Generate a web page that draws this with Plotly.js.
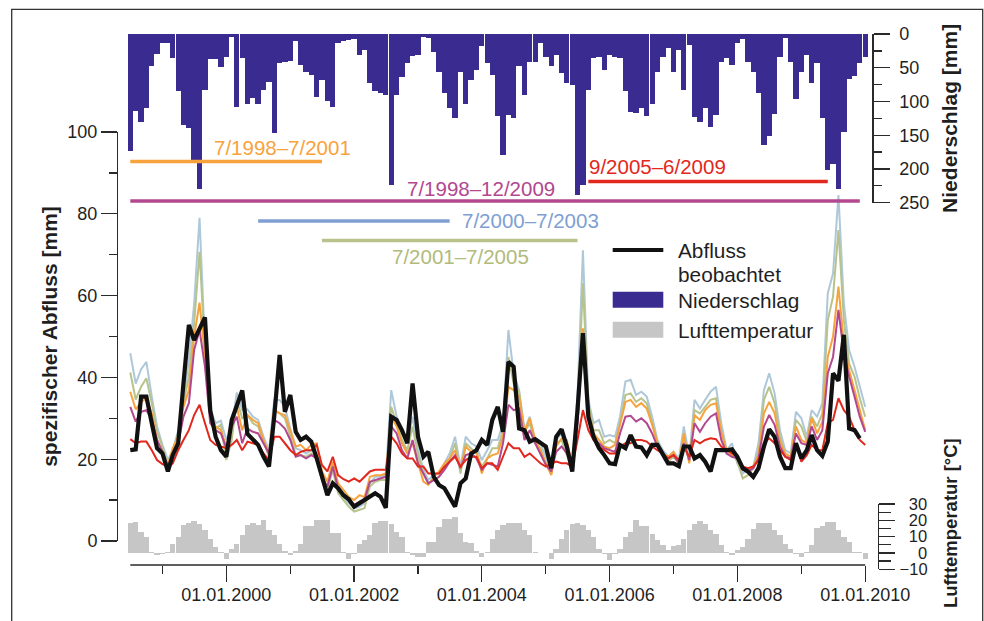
<!DOCTYPE html>
<html><head><meta charset="utf-8">
<script src="https://cdn.plot.ly/plotly-3.0.1.min.js"></script>
<style>html,body{margin:0;padding:0;background:#fff;}#chart{width:984px;height:621px;}</style>
</head><body><div id="chart"></div>
<script>
// ---------------- data ----------------
const firstMonth = [1998, 7];   // monthly values from 7/1998
const nMonths = 139;
const niederschlag = [173,114,130,109,47,30,14,14,36,85,135,140,
188,230,83,37,37,49,34,5,108,36,104,95,
104,83,71,146,43,41,40,11,46,56,61,93,
68,100,108,14,11,9,8,31,23,73,85,88,
90,224,90,63,43,33,31,5,6,26,56,88,
109,125,56,104,68,54,18,43,61,121,179,120,
125,47,90,41,41,13,34,48,31,58,72,76,
239,224,83,36,34,53,31,34,36,85,115,117,
110,122,104,56,34,20,57,24,83,17,123,131,
110,138,120,42,36,46,14,8,42,56,87,164,
151,118,34,6,42,97,56,31,72,43,125,202,
192,230,145,67,62,43,34];
const lufttemperatur = [18.6,19,12.9,9.8,0.6,-1.4,-0.4,0.6,5.7,9.8,17,18.6,
19.4,18,13.9,8.8,3.7,0.6,-3.5,2.7,5.7,10.8,17,18.4,
17,20,14.3,10.8,5.7,1.2,-1.4,1.2,5.7,16.3,16.3,20,
20.4,20.4,12.2,12.2,0.6,-3.5,-0.4,5.7,7.8,10.8,18.4,19.6,
19.6,18,12.9,9.8,0.6,-1.4,-2.4,-2.4,6.7,6.7,15.9,21,
21,22,12,6.5,6,1.5,-2.4,0.6,8.8,13.9,17,18.4,
18.4,18.4,14.3,10.8,0.6,0,0,-3.5,2.7,8.8,14.3,18,
18.4,17,13.9,9.8,2.7,-0.4,-4.5,-0.4,2.7,9.8,12.9,20.4,
16.3,16.3,11.8,7.8,4.7,2,4.1,4.7,8.8,14.3,18,19.4,
18,14.3,11.8,4.7,0.6,-1.4,2,3.7,8.8,14.9,18.4,18.6,
18.6,14.3,10.8,5.7,2.7,-0.4,-2.4,0.6,4.7,15.5,16.3,19,
19,14.3,9.8,6.7,0.6,0.6,-3.5];
const abflussBeobachtet = [22.2,22.4,35.3,35.3,28.8,22.7,21.4,17,21,23.9,38.5,52.8,
49.1,52,54.7,32,25.5,22.2,20.6,29.6,32.8,36.8,26.2,24.7,
23.5,20.6,18.2,30.4,45.5,31.6,35.7,26.7,24.7,25.5,24.3,20.2,
15.7,11.2,14.1,12.9,11.2,10.2,8.4,9.2,10,10.8,11.7,10.8,
8.1,30.4,29.6,27.1,23.9,38.5,25.5,20.6,21.8,15.7,13.7,12.9,
10.8,8.4,14.1,15.3,21.4,22.2,24.7,23.5,29.6,32.8,26.7,43.8,
42.6,27.5,27.1,24.3,24.9,23.9,23.1,17.8,25.5,27.3,23.1,17,
32,50.8,30.4,25.5,22.7,21,19,18.8,23.5,22.7,25.9,23.1,
22.9,21,23.5,23.5,21.4,19,19,18.3,23.1,23.1,20.2,21,
19.4,17,22.2,22.1,22.2,22.4,20.6,17.8,17,15.7,17.8,23.1,
27.3,25.5,20.6,17.8,17.8,23.9,20.2,22.2,25.9,22.2,20.8,24.3,
41,39.2,50.4,27.5,27.1,25.1];
// simulated runoff, calibrated on 7/2000–7/2003
const sim2000_2003 = [45.9,38.5,42,43.8,35.3,28,23.5,19.8,22.2,27.1,34.5,44.3,
58,79,47.5,32,28.8,29.4,24.7,28,36.3,32,32.2,30.4,
29.6,25.5,22.2,34.5,34.5,32.8,27.5,22.7,22.2,21.4,22.2,21.4,
15.7,13.3,19,12.5,10.8,9.2,8,8.4,9.2,14.1,15.7,15.7,
16.1,36.9,30.4,26.3,23.9,30.4,22.2,17.4,14.9,16.1,16.5,19,
21.4,25.5,18.2,25.5,23.9,23.1,19.8,22.2,24.7,24.7,28.8,51.6,
41,36.9,27.1,30.4,24.7,23.9,20.6,16.5,24.7,26.3,22.2,18.2,
35.3,71.1,34.5,28.8,29.6,25.5,25.9,25.5,30.4,39,39.4,35.7,
36.5,35.3,30.4,24.7,22.2,20.6,21.8,20.2,28,20.6,34.5,32.4,
34.5,36.5,37.7,28.8,22.2,23.9,19,16.5,17.4,18.2,23.9,36.9,
41,36.1,27.1,22.2,21.4,31.6,30,25.5,32,30.4,33.7,60.6,
65.4,84.6,58.1,46.7,42.6,37.7,32.8];
// simulated runoff, calibrated on 7/2001–7/2005
const sim2001_2005 = [41.2,34.6,37.7,39.8,33.7,26.7,23,18.5,22.2,26.3,33.7,40.2,
53.2,70.7,46.7,31.2,27.5,28.4,19.8,24.7,34.5,30,30.8,28.8,
28,24.3,20.6,32,31.2,30,25.5,21,21,20.6,21.4,20.2,
14.9,12.5,17.4,11.7,10,8.4,7.2,7.6,8,13.3,14.5,14.9,
14.9,32.8,28.8,24.7,22.2,28,21,16.5,14.1,14.9,15.7,17.8,
20.2,23.9,16.5,23.9,22.7,21.4,18.2,20.2,22.7,22.7,27.1,45,
38.5,36.5,26.7,28.8,23.9,22.7,19,16.5,23.9,24.7,21,17.8,
31.2,63,33.7,27.1,27.1,23.9,24.7,23.9,28.8,35.7,36.1,34,
34.9,33.7,28.8,24.3,21,19.4,20.6,19,24.7,19.4,32,31.2,
32.8,34.5,34.9,27.1,21.4,21.8,19.4,15.3,16.1,17.8,21.8,34.5,
37.7,33.7,25.5,21,20.6,29.6,28,24.3,30.4,28,31.2,54,
59.7,76,54,43.4,40.2,34.9,30.4];
// simulated runoff, calibrated on 7/1998–7/2001
const sim1998_2001 = [36.5,32.2,34,34.9,31.2,24.7,21.8,18.5,22.7,25.5,32.8,36.9,
50,58.3,45,30.8,28,27.1,23.1,28.4,32.8,27.1,30.8,29.6,
28.8,24.7,21.4,32,31.2,30.8,27.1,23.1,23.5,22.2,23.5,23.9,
17,14.5,19.4,14.1,12.5,10.8,10,11.2,10.7,15.7,16.1,16.1,
16.5,30.4,28,23.9,21.4,23.9,19,14.5,13.7,15.7,17,19,
20.2,22.2,17.8,23.1,21.8,22.2,16.5,20.2,21,21.4,25.5,37.7,
36.9,35.3,26.7,30,24.7,22.2,19,16.1,23.1,25.1,24.7,18.2,
30.4,52,32,26.3,24.7,23.1,22.7,23.5,28.4,34,34.5,32.8,
33.7,32.4,28.4,23.9,21.4,20.6,21.8,19,26.3,19,30.8,29.6,
32,33.3,33.7,26.7,22.2,21,21,17.8,17.4,18.2,21,31.2,
34,31.2,24.3,21.4,20.6,28,24.7,23.9,30,26.3,29.2,45,
50,62.2,48.3,41.8,36.9,32,27.1];
// simulated runoff, calibrated on 7/1998–12/2009
const sim1998_2009 = [32.8,29.2,31.6,32,29.6,24.7,21.8,18.2,21,23.9,30.4,33.7,
46.7,51.6,42.6,28.8,27.1,26.3,22.7,28,30.4,23.9,27.5,26.7,
26.3,23.9,21.4,29.6,28.8,27.5,24.7,20.6,21,20.2,21,20.2,
15.3,13.3,18.2,12.9,11.2,10,8.8,9.6,10,14.5,14.9,15.3,
15.7,28,26.3,22.2,20.2,24.7,19,16.5,14.1,14.9,15.7,17.4,
19.4,21,17.8,21,21.4,20.2,17.4,19,18.6,18.2,23.9,33.3,
32,32.4,24.7,27.1,23.9,21.4,18.6,17,21.8,23.1,21.4,18.2,
28.8,49.6,30.4,24.7,23.9,22.7,22.2,21.8,26.3,30.4,30.6,29.2,
30,28.8,26.3,23.1,21,20.2,21,19,23.9,19.8,28.8,26.7,
28.8,30.4,31.2,24.7,21.4,20.6,20.2,17.4,17,17.8,20.2,28,
30.8,28.4,23.1,20.6,20.2,26.3,23.9,23.5,28,24.7,27.1,41,
45,56.5,45.9,40.2,35.3,30.4,26.7];
// simulated runoff, calibrated on 9/2005–6/2009
const sim2005_2009 = [24.9,23.9,24.3,24.3,22.2,19.8,18.8,18.2,19,22.2,24.7,27.1,
30.8,33.3,28.8,24.7,23.5,23.1,22.7,23.5,24.7,22.2,24.3,23.9,
23.5,21.4,19.8,25.5,25.5,23.9,22.2,21,21.8,22.2,22.2,23.5,
18.6,17,20.6,16.1,15.1,14.5,15.3,14.5,15.7,17,17.4,17.4,
17.4,25.5,23.9,21.4,20.2,20.2,18.2,18.2,16.5,16.5,16.5,18.2,
19.4,20.6,18.2,19.8,20.6,20.6,17.8,19,19,17.4,20.6,23.9,
22.7,22.7,20.6,21.4,20.2,19,18.2,19,19.4,19,19,18.2,
24.7,32,27.1,24.7,23.1,22.2,21.4,21.4,23.1,23.9,23.9,24.7,
24.7,24.3,23.1,22.2,21.4,20.2,21,19.8,23.1,20.6,24.7,23.9,
24.7,25.1,24.9,23.1,22.2,21.4,20.6,18.2,17.8,18.2,19.8,23.9,
25.1,23.9,22.2,20.6,19.8,23.9,19.4,21,23.5,22.2,22.2,28.8,
29.6,34.9,32,30.4,27.1,24.7,23.5];
// calibration periods
const periodLabels = ['7/1998\u20137/2001','7/1998\u201312/2009','7/2000\u20137/2003','7/2001\u20137/2005','9/2005\u20136/2009'];
const periodStart = ['1998-07-01','1998-07-01','2000-07-01','2001-07-01','2005-09-01'];
const periodEnd   = ['2001-07-01','2009-12-01','2003-07-01','2005-07-01','2009-06-01'];
// ticks
const xTickVals = ['2000-01-01','2002-01-01','2004-01-01','2006-01-01','2008-01-01','2010-01-01'];
const xTickText = ['01.01.2000','01.01.2002','01.01.2004','01.01.2006','01.01.2008','01.01.2010'];
const xMinorVals = ['1999-01-01','2001-01-01','2003-01-01','2005-01-01','2007-01-01','2009-01-01'];
const qTickVals = [0,20,40,60,80,100];
const pTickVals = [0,50,100,150,200,250];
const tTickVals = [-10,0,10,20,30];
const tTickText = ['\u221210','\u2007\u20070','\u200710','\u200720','\u200730'];
const legendLabels = ['Abfluss','beobachtet','Niederschlag','Lufttemperatur'];

// month dates
const months = [];
for (let k = 0; k < nMonths; k++) {
  const m0 = firstMonth[1] - 1 + k;
  const yy = firstMonth[0] + Math.floor(m0 / 12);
  const mm = (m0 % 12) + 1;
  months.push(yy + '-' + String(mm).padStart(2, '0') + '-01');
}

// ---------------- styles / geometry ----------------
const FONT = 'Liberation Sans, Arial, Helvetica, sans-serif';
const AX = '#2a2a2a';
const TXT = '#1f1f1f';
const colPrecip = '#3a2b91', colTemp = '#c5c6c5';
const colLB = '#aec8d9', colG = '#b7c38b', colO = '#f7a33d', colP = '#b2488f', colR = '#e2281d';
const periodColors = ['#f7a33d','#b2488f','#7f9fd3','#b7c38b','#e2281d'];
const periodTextColors = ['#f7a33d','#b2488f','#7f9fd3','#b1bb7c','#e2281d'];
const periodLinePx = [161.5, 201, 221, 240.5, 181.5];
const periodTextPx = [[212,147.5],[405,188],[460,220],[390,256],[587,166.5]];

const W = 984, H = 621, L = 117, R = 878, T = 30, B = 572;
const fx = p => (p - L) / (R - L);
const fy = p => (B - p) / (B - T);
const t2000 = Date.UTC(2000,0,1), t2010 = Date.UTC(2010,0,1);
const px2000 = 226.3, px2010 = 865.2;
const msPerPx = (t2010 - t2000) / (px2010 - px2000);
const xDomPx = [126, 870];
const xRange = xDomPx.map(p => t2000 + (p - px2000) * msPerPx);
const monthMs = 30.4375 * 86400000;

const traces = [];
traces.push({type:'bar', x: months, y: niederschlag, yaxis:'y2', width: monthMs,
  marker:{color: colPrecip, line:{width:0}}, hoverinfo:'skip', name:'Niederschlag'});
traces.push({type:'bar', x: months, y: lufttemperatur, yaxis:'y3', width: monthMs,
  marker:{color: colTemp, line:{width:0}}, hoverinfo:'skip', name:'Lufttemperatur'});
const sims = [[sim2000_2003, colLB],[sim2001_2005, colG],[sim1998_2001, colO],[sim1998_2009, colP],[sim2005_2009, colR]];
sims.forEach(([arr, c]) => traces.push({type:'scatter', mode:'lines', x: months.slice(0, arr.length), y: arr,
  yaxis:'y', line:{color:c, width:2}, hoverinfo:'skip'}));
traces.push({type:'scatter', mode:'lines', x: months.slice(0, abflussBeobachtet.length), y: abflussBeobachtet,
  yaxis:'y', line:{color:'#111111', width:4.2}, hoverinfo:'skip', name:'Abfluss beobachtet'});

const shapes = [];
// outer frame
shapes.push({type:'rect', xref:'paper', yref:'paper', x0: fx(11.7), x1: fx(982.7), y0: fy(640), y1: fy(9.3),
  line:{color:'#333', width:1.3}, fillcolor:'rgba(0,0,0,0)', layer:'below'});
// x axis line
shapes.push({type:'line', xref:'x', yref:'paper', x0: '1998-07-01', x1: '2010-01-01', y0: fy(565), y1: fy(565),
  line:{color: AX, width:1.3}});
// calibration period bars
periodLabels.forEach((lab, i) => {
  shapes.push({type:'line', xref:'x', yref:'paper', x0: periodStart[i], x1: periodEnd[i],
    y0: fy(periodLinePx[i]), y1: fy(periodLinePx[i]), line:{color: periodColors[i], width:3.4}});
});
// legend symbols
shapes.push({type:'line', xref:'paper', yref:'paper', x0: fx(612.7), x1: fx(663.3), y0: fy(250), y1: fy(250), line:{color:'#111', width:4.2}});
shapes.push({type:'rect', xref:'paper', yref:'paper', x0: fx(612.7), x1: fx(663.3), y0: fy(307.7), y1: fy(291.7), line:{width:0}, fillcolor: colPrecip});
shapes.push({type:'rect', xref:'paper', yref:'paper', x0: fx(612.7), x1: fx(663.3), y0: fy(337.7), y1: fy(321.7), line:{width:0}, fillcolor: colTemp});

const annotations = [];
periodLabels.forEach((lab, i) => {
  annotations.push({xref:'paper', yref:'paper', x: fx(periodTextPx[i][0]), y: fy(periodTextPx[i][1]),
    xanchor:'left', yanchor:'middle', showarrow:false, text: lab,
    font:{family: FONT, size: 20.5, color: periodTextColors[i]}});
});
const legendTextPx = [250, 274, 300, 330];
legendLabels.forEach((lab, i) => {
  annotations.push({xref:'paper', yref:'paper', x: fx(676), y: fy(legendTextPx[i]), xanchor:'left', yanchor:'middle',
    showarrow:false, text: lab, font:{family: FONT, size: 20.8, color: TXT}});
});
const titleFont = {family: FONT, size: 21, color: TXT, weight: 'bold'};
// temperature axis title (placed explicitly, it is longer than its axis)
annotations.push({xref:'paper', yref:'paper', x: fx(950), y: fy(523), xanchor:'center', yanchor:'middle',
  textangle: -90, showarrow:false, text:'Lufttemperatur [°C]', font:{family: FONT, size: 18.5, color: TXT, weight:'bold'}});

const tickFont = {family: FONT, size: 18, color: TXT};
const layout = {
  width: W, height: H,
  margin: {l: L, r: W - R, t: T, b: H - B, autoexpand: false},
  paper_bgcolor: '#ffffff', plot_bgcolor: 'rgba(0,0,0,0)',
  showlegend: false, barmode: 'overlay', bargap: 0, hovermode: false,
  xaxis: {type:'date', domain:[fx(xDomPx[0]), fx(xDomPx[1])], range: xRange, anchor:'free', position: fy(565),
    showline:false, showgrid:false, zeroline:false, ticks:'outside', ticklen:16, tickwidth:1.3, tickcolor: AX,
    tickmode:'array', tickvals: xTickVals, ticktext: xTickText, tickfont: tickFont, ticklabelstandoff: -3,
    minor:{tickmode:'array', tickvals: xMinorVals, ticks:'outside', ticklen:8, tickwidth:1.3, tickcolor: AX, showgrid:false}},
  yaxis: {domain:[fy(541), fy(132)], range:[0,100], anchor:'free', position:0, side:'left',
    showline:true, linecolor: AX, linewidth:1.3, ticks:'outside', ticklen:16, tickwidth:1.3, tickcolor: AX,
    tickmode:'array', tickvals: qTickVals, showgrid:false, zeroline:false, tickfont: tickFont,
    minor:{dtick:10, tick0:0, ticks:'outside', ticklen:8, tickwidth:1.3, tickcolor: AX, showgrid:false},
    title:{text:'spezifischer Abfluss [mm]', font: titleFont, standoff: 2}},
  yaxis2: {domain:[fy(202.7), fy(34)], range:[250,0], anchor:'free', position: fx(872.3), side:'right',
    showline:true, linecolor: AX, linewidth:1.3, ticks:'outside', ticklen:16, tickwidth:1.3, tickcolor: AX,
    tickmode:'array', tickvals: pTickVals, showgrid:false, zeroline:false, tickfont: tickFont, ticklabelstandoff: 6,
    minor:{dtick:25, tick0:0, ticks:'outside', ticklen:8, tickwidth:1.3, tickcolor: AX, showgrid:false},
    title:{text:'Niederschlag [mm]', font: titleFont, standoff: 14}},
  yaxis3: {domain:[fy(569.3), fy(504)], range:[-10,30], anchor:'free', position: 1, side:'right',
    showline:true, linecolor: AX, linewidth:1.3, ticks:'outside', ticklen:16, tickwidth:1.3, tickcolor: AX,
    tickmode:'array', tickvals: tTickVals, ticktext: tTickText, showgrid:false, zeroline:false,
    tickfont:{family: FONT, size: 16.5, color: TXT}, ticklabelstandoff: 1,
    minor:{dtick:5, tick0:0, ticks:'outside', ticklen:12, tickwidth:1.3, tickcolor: AX, showgrid:false}},
  shapes: shapes, annotations: annotations
};
Plotly.newPlot('chart', traces, layout, {staticPlot:true, displayModeBar:false});
</script>
</body></html>
